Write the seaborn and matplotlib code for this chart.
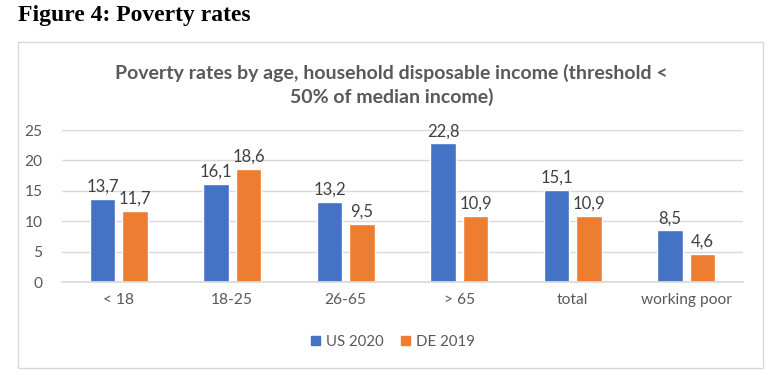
import numpy as np
import pandas as pd
import matplotlib
matplotlib.use('Agg')
import matplotlib.pyplot as plt
import seaborn as sns
from matplotlib.patches import Rectangle

CATEGORIES = ['< 18', '18-25', '26-65', '> 65', 'total', 'working poor']
US_2020 = [13.7, 16.1, 13.2, 22.8, 15.1, 8.5]
DE_2019 = [11.7, 18.6, 9.5, 10.9, 10.9, 4.6]
SERIES = ['US 2020', 'DE 2019']
COLORS = ['#4472C4', '#ED7D31']
Y_TICKS = [0, 5, 10, 15, 20, 25]

df = pd.DataFrame({
    'category': CATEGORIES * 2,
    'series': [SERIES[0]] * len(CATEGORIES) + [SERIES[1]] * len(CATEGORIES),
    'value': US_2020 + DE_2019,
})

sns.set_theme(style='white')
plt.rcParams['font.family'] = ['Lato', 'DejaVu Sans']

fig = plt.figure(figsize=(7.76, 3.79), dpi=100)
ax = fig.add_axes([62 / 776, 1 - 282 / 379, 681 / 776, 152 / 379])

sns.barplot(data=df, x='category', y='value', hue='series', order=CATEGORIES,
            hue_order=SERIES, palette=COLORS, width=0.57, gap=0.21,
            saturation=1, errorbar=None, ax=ax, legend=False)

for cont in ax.containers:
    labels = [f'{v:.1f}'.replace('.', ',') for v in cont.datavalues]
    ax.bar_label(cont, labels=labels, padding=3, fontsize=12, color='#404040')

ax.set_ylim(0, 25)
ax.set_yticks(Y_TICKS)
ax.set_xlim(-0.5, len(CATEGORIES) - 0.5)
ax.yaxis.grid(True, color='#d9d9d9', linewidth=1)
ax.set_axisbelow(True)
for side in ['left', 'right', 'top']:
    ax.spines[side].set_visible(False)
ax.spines['bottom'].set_color('#d9d9d9')
ax.tick_params(axis='y', length=0, pad=14, labelsize=11.2, labelcolor='#595959')
ax.tick_params(axis='x', length=0, pad=8, labelsize=11.2, labelcolor='#595959')
ax.set_xlabel('')
ax.set_ylabel('')

handles = [Rectangle((0, 0), 1, 1, color=c) for c in COLORS]
fig.legend(handles, SERIES, loc='center', bbox_to_anchor=(393 / 776, 1 - 342 / 379),
           ncol=2, frameon=False, handlelength=0.6, handleheight=0.6,
           handletextpad=0.4, columnspacing=1.2, prop={'size': 10.8},
           labelcolor='#595959')

fig.text(0.5 * (117 + 666) / 776, 1 - 85 / 379,
         'Poverty rates by age, household disposable income (threshold <\n50% of median income)',
         ha='center', va='center', fontsize=14, color='#595959', fontweight='bold',
         linespacing=1.35)

fig.text(18 / 776, 1 - 16 / 379, 'Figure 4: Poverty rates', ha='left', va='center',
         fontsize=17, fontweight='bold', family='Liberation Serif', color='black')

fig.patches.append(Rectangle((18 / 776, 1 - 368 / 379), 745 / 776, 326 / 379,
                             transform=fig.transFigure, fill=False,
                             edgecolor='#d9d9d9', linewidth=1))

fig.savefig('out.png', dpi=100)
